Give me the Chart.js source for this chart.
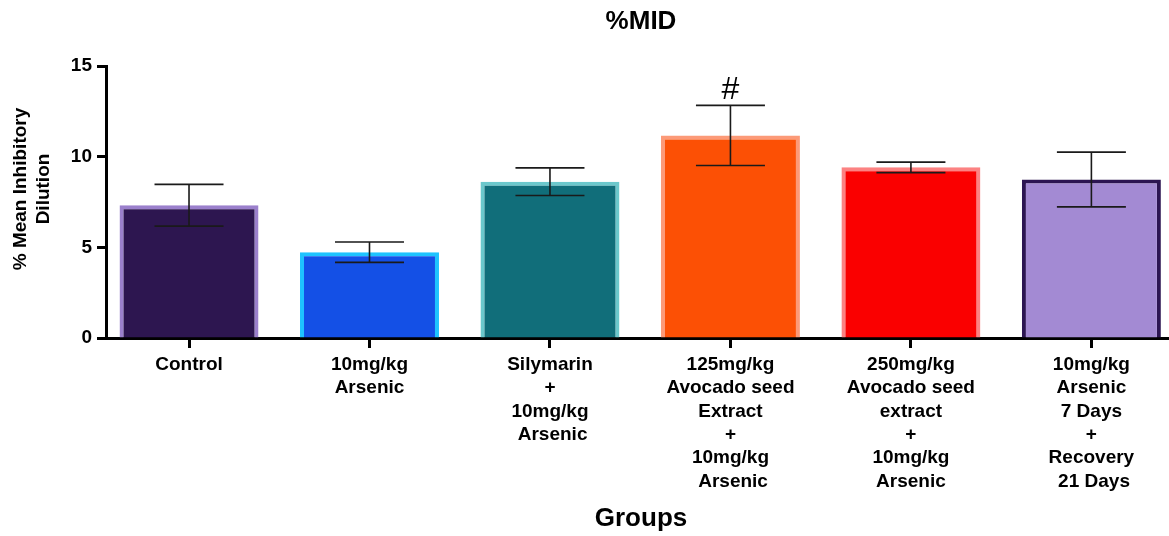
<!DOCTYPE html>
<html>
<head>
<meta charset="utf-8">
<title>%MID</title>
<script src="https://cdn.jsdelivr.net/npm/chart.js@4/dist/chart.umd.min.js"></script>
<style>
  html, body { margin: 0; padding: 0; background: #fff; }
  #wrap { width: 1169px; height: 536px; }
</style>
</head>
<body>
<div id="wrap"><canvas id="chart" width="1169" height="536"></canvas></div>
<script>
// Group labels (one array entry per text line)
const groups = [
  ['Control'],
  ['10mg/kg', 'Arsenic'],
  ['Silymarin', '+', '10mg/kg', ' Arsenic'],
  ['125mg/kg', 'Avocado seed', 'Extract', '+', '10mg/kg', ' Arsenic'],
  ['250mg/kg', 'Avocado seed', 'extract', '+', '10mg/kg', 'Arsenic'],
  ['10mg/kg', 'Arsenic', '7 Days', '+', 'Recovery', ' 21 Days']
];
// % Mean Inhibitory Dilution, mean and error per group
const means  = [7.32, 4.73, 8.62, 11.17, 9.41, 8.74];
const errors = [1.15, 0.56, 0.76, 1.66, 0.29, 1.51];
// significance marks above the error bars
const marks  = ['', '', '', '#', '', ''];
const yTicks = [0, 5, 10, 15];

const fillColors   = ['#2d1650', '#1450e6', '#116e7a', '#fc5005', '#fa0000', '#a38ad3'];
const borderColors = ['#9b80cc', '#1ec3ff', '#6cc8cc', '#fc9a78', '#fc8282', '#2c1552'];

const FONT = '"Liberation Sans", Arial, Helvetica, sans-serif';

const whiteBg = {
  id: 'whiteBg',
  beforeDraw(chart) {
    const c = chart.ctx;
    c.save();
    c.fillStyle = '#fff';
    c.fillRect(0, 0, chart.width, chart.height);
    c.restore();
  }
};

// error bars and significance marks
const errorBars = {
  id: 'errorBars',
  afterDatasetsDraw(chart) {
    const c = chart.ctx;
    const y = chart.scales.y;
    const meta = chart.getDatasetMeta(0);
    c.save();
    c.strokeStyle = '#1a1a1a';
    c.lineWidth = 1.6;
    meta.data.forEach((bar, i) => {
      const x = bar.x;
      const top = y.getPixelForValue(means[i] + errors[i]);
      const bot = y.getPixelForValue(means[i] - errors[i]);
      const half = 34.5;
      c.beginPath();
      c.moveTo(x, top); c.lineTo(x, bot);
      c.moveTo(x - half, top); c.lineTo(x + half, top);
      c.moveTo(x - half, bot); c.lineTo(x + half, bot);
      c.stroke();
      if (marks[i]) {
        c.fillStyle = '#000';
        c.font = '32px ' + FONT;
        c.textAlign = 'center';
        c.textBaseline = 'alphabetic';
        c.fillText(marks[i], x, top - 6);
      }
    });
    c.restore();
  }
};

// chart title and axis titles
const titles = {
  id: 'titles',
  afterDraw(chart) {
    const c = chart.ctx;
    c.save();
    c.fillStyle = '#000';
    c.textAlign = 'center';
    c.textBaseline = 'alphabetic';
    c.font = 'bold 26px ' + FONT;
    c.fillText('%MID', 641, 29);
    c.fillText('Groups', 641, 526);
    c.translate(0, 189);
    c.rotate(-Math.PI / 2);
    c.font = 'bold 19px ' + FONT;
    c.textBaseline = 'middle';
    c.fillText('% Mean Inhibitory', 0, 21);
    c.fillText('Dilution', 0, 44);
    c.restore();
  }
};

new Chart(document.getElementById('chart'), {
  type: 'bar',
  data: {
    datasets: [{
      data: means.map((v, i) => ({ x: i, y: v })),
      backgroundColor: fillColors,
      borderColor: borderColors,
      borderWidth: 4,
      categoryPercentage: 1,
      barPercentage: 0.77
    }]
  },
  options: {
    responsive: false,
    animation: false,
    events: [],
    layout: { padding: { top: 66, right: 0, left: 0, bottom: 0 } },
    plugins: {
      legend: { display: false },
      tooltip: { enabled: false },
      title: { display: false }
    },
    scales: {
      x: {
        type: 'linear',
        min: -0.46,
        max: 5.43,
        offset: false,
        afterBuildTicks(scale) {
          scale.ticks = groups.map((g, i) => ({ value: i }));
        },
        afterFit(scale) { scale.height = 198; },
        grid: {
          offset: false,
          drawOnChartArea: false,
          tickLength: 10,
          tickWidth: 3,
          tickColor: '#000'
        },
        border: { color: '#000', width: 3 },
        ticks: {
          autoSkip: false,
          maxRotation: 0,
          minRotation: 0,
          padding: 5,
          color: '#000',
          font: { family: FONT, size: 19, weight: 'bold', lineHeight: 1.23 },
          callback: (v) => groups[v] || ''
        }
      },
      y: {
        min: 0,
        max: 15,
        afterBuildTicks(scale) {
          scale.ticks = yTicks.map(v => ({ value: v }));
        },
        afterFit(scale) { scale.width = 106; },
        grid: {
          drawOnChartArea: false,
          tickLength: 9,
          tickWidth: 3,
          tickColor: '#000'
        },
        border: { color: '#000', width: 3 },
        ticks: {
          padding: 5,
          color: '#000',
          font: { family: FONT, size: 19, weight: 'bold' }
        }
      }
    }
  },
  plugins: [whiteBg, errorBars, titles]
});
</script>
</body>
</html>
